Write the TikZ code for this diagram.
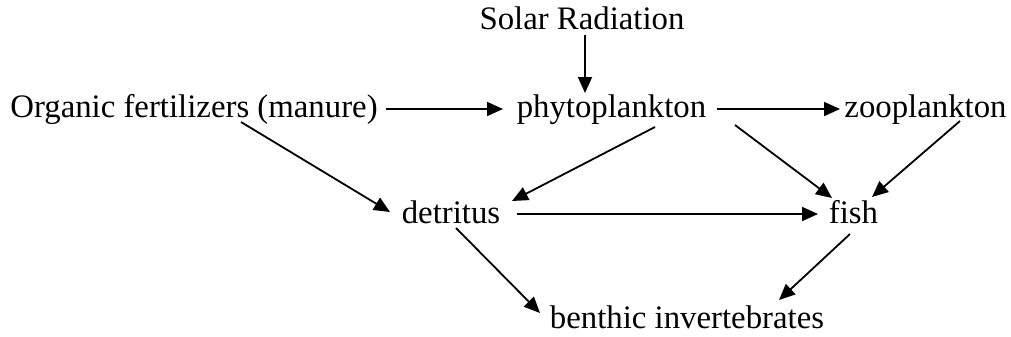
\documentclass[tikz,border=0pt]{standalone}
\usepackage{fontspec}
\setmainfont{Liberation Serif}
\usetikzlibrary{arrows.meta}

\begin{document}
\begin{tikzpicture}[x=0.5pt,y=-0.5pt,
  lbl/.style={anchor=base,inner sep=0pt,font=\fontsize{16.4pt}{20pt}\selectfont},
  flow/.style={line width=0.9pt,-{Triangle[length=8pt,width=7pt]}}]
\useasboundingbox (0,0) rectangle (1011,337);
\node[lbl] (sol) at (582,29) {Solar Radiation};
\node[lbl] (org) at (194,117) {Organic fertilizers (manure)};
\node[lbl] (phy) at (611.5,117) {phytoplankton};
\node[lbl] (zoo) at (925.5,117) {zooplankton};
\node[lbl] (det) at (451,223) {detritus};
\node[lbl] (fish) at (853.5,223) {fish};
\node[lbl] (ben) at (687,328) {benthic invertebrates};
\foreach \a/\sa/\b/\sb in {
  sol/{(3,6)}/phy/{(-26.5,-24)},
  org/{(192,-8)}/phy/{(-108.5,-8)},
  phy/{(105.5,-8)}/zoo/{(-85.5,-8)},
  org/{(47,5)}/det/{(-61,-11)},
  phy/{(43.5,10)}/det/{(61,-22)},
  phy/{(123.5,8)}/fish/{(-21.5,-25)},
  zoo/{(34.5,4)}/fish/{(18.5,-26)},
  det/{(66,-9)}/fish/{(-35.5,-9)},
  det/{(5,5)}/ben/{(-147,-15)},
  fish/{(-3.5,11)}/ben/{(92,-28)}}{
  \draw[flow] ([shift={\sa}]\a.base) -- ([shift={\sb}]\b.base);
}
\end{tikzpicture}
\end{document}
